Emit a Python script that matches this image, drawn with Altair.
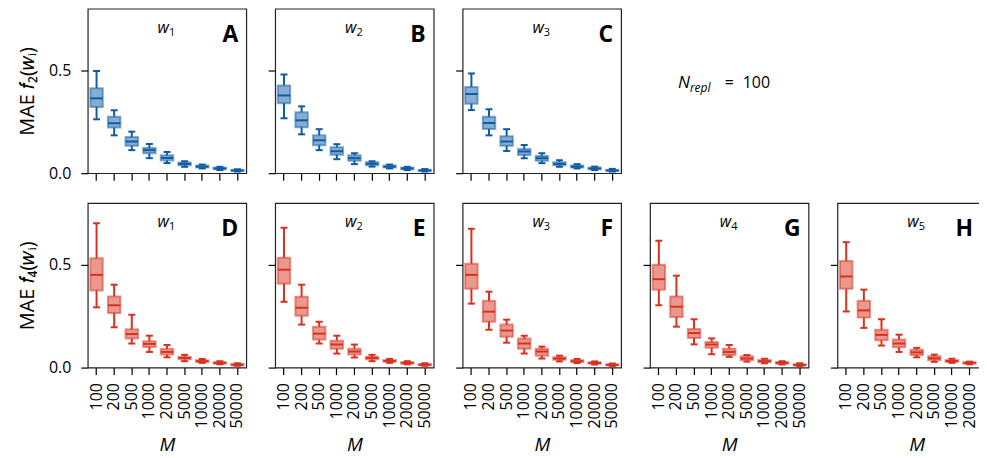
import altair as alt
import pandas as pd

cats = ["100", "200", "500", "1000", "2000", "5000", "10000", "20000", "50000"]

letters = ["A", "B", "C", "D", "E", "F", "G", "H"]
w_index = ["1", "2", "3", "1", "2", "3", "4", "5"]
y_titles = ["MAE 𝑓₂(𝑤ᵢ)", "MAE 𝑓₄(𝑤ᵢ)"]
x_title = "M"
nrepl_text = ["N", "repl", "=", "100"]

# panel A
A_hi = [0.497, 0.306, 0.202, 0.142, 0.103, 0.058, 0.042, 0.031, 0.019]
A_q3 = [0.413, 0.275, 0.176, 0.123, 0.087, 0.052, 0.037, 0.027, 0.016]
A_md = [0.364, 0.243, 0.154, 0.112, 0.074, 0.045, 0.032, 0.023, 0.013]
A_q1 = [0.322, 0.222, 0.133, 0.097, 0.062, 0.039, 0.028, 0.019, 0.011]
A_lo = [0.262, 0.184, 0.112, 0.073, 0.049, 0.031, 0.023, 0.015, 0.008]
# panel B
B_hi = [0.480, 0.325, 0.214, 0.141, 0.097, 0.058, 0.042, 0.031, 0.020]
B_q3 = [0.427, 0.296, 0.184, 0.126, 0.087, 0.053, 0.037, 0.027, 0.016]
B_md = [0.378, 0.257, 0.160, 0.107, 0.073, 0.046, 0.032, 0.023, 0.013]
B_q1 = [0.340, 0.223, 0.136, 0.090, 0.060, 0.039, 0.028, 0.019, 0.011]
B_lo = [0.267, 0.189, 0.112, 0.068, 0.044, 0.032, 0.023, 0.015, 0.008]
# panel C
C_hi = [0.485, 0.311, 0.214, 0.137, 0.097, 0.063, 0.044, 0.032, 0.021]
C_q3 = [0.419, 0.275, 0.180, 0.118, 0.084, 0.053, 0.037, 0.027, 0.016]
C_md = [0.385, 0.244, 0.154, 0.105, 0.073, 0.045, 0.032, 0.023, 0.013]
C_q1 = [0.338, 0.215, 0.133, 0.089, 0.060, 0.039, 0.028, 0.019, 0.011]
C_lo = [0.307, 0.184, 0.108, 0.073, 0.049, 0.031, 0.023, 0.015, 0.008]
# panel D
D_hi = [0.702, 0.403, 0.257, 0.155, 0.110, 0.062, 0.042, 0.031, 0.021]
D_q3 = [0.532, 0.346, 0.186, 0.128, 0.091, 0.052, 0.036, 0.026, 0.017]
D_md = [0.451, 0.303, 0.163, 0.115, 0.076, 0.047, 0.031, 0.023, 0.014]
D_q1 = [0.375, 0.265, 0.142, 0.100, 0.063, 0.040, 0.027, 0.019, 0.011]
D_lo = [0.293, 0.196, 0.117, 0.076, 0.050, 0.031, 0.023, 0.016, 0.009]
# panel E
E_hi = [0.680, 0.403, 0.223, 0.155, 0.112, 0.062, 0.042, 0.031, 0.021]
E_q3 = [0.534, 0.345, 0.199, 0.131, 0.092, 0.053, 0.037, 0.026, 0.017]
E_md = [0.476, 0.291, 0.165, 0.112, 0.078, 0.047, 0.032, 0.023, 0.014]
E_q1 = [0.408, 0.252, 0.136, 0.092, 0.063, 0.040, 0.028, 0.019, 0.011]
E_lo = [0.320, 0.209, 0.117, 0.068, 0.049, 0.031, 0.023, 0.016, 0.009]
# panel F
F_hi = [0.675, 0.369, 0.233, 0.155, 0.102, 0.058, 0.042, 0.030, 0.020]
F_q3 = [0.505, 0.325, 0.209, 0.141, 0.092, 0.050, 0.036, 0.026, 0.016]
F_md = [0.451, 0.272, 0.180, 0.117, 0.078, 0.044, 0.031, 0.022, 0.013]
F_q1 = [0.383, 0.223, 0.150, 0.092, 0.058, 0.038, 0.027, 0.019, 0.011]
F_lo = [0.311, 0.184, 0.121, 0.068, 0.044, 0.030, 0.022, 0.015, 0.008]
# panel G
G_hi = [0.617, 0.447, 0.235, 0.142, 0.110, 0.061, 0.043, 0.031, 0.021]
G_q3 = [0.500, 0.346, 0.188, 0.125, 0.092, 0.055, 0.037, 0.027, 0.016]
G_md = [0.430, 0.296, 0.168, 0.112, 0.076, 0.044, 0.031, 0.023, 0.013]
G_q1 = [0.379, 0.246, 0.144, 0.096, 0.061, 0.036, 0.026, 0.019, 0.010]
G_lo = [0.303, 0.199, 0.113, 0.065, 0.052, 0.029, 0.021, 0.015, 0.008]
# panel H
H_hi = [0.610, 0.379, 0.235, 0.160, 0.096, 0.063, 0.043, 0.029, 0.020]
H_q3 = [0.518, 0.325, 0.184, 0.136, 0.087, 0.055, 0.037, 0.026, 0.016]
H_md = [0.443, 0.278, 0.159, 0.117, 0.074, 0.045, 0.032, 0.023, 0.013]
H_q1 = [0.383, 0.243, 0.133, 0.099, 0.061, 0.036, 0.027, 0.019, 0.010]
H_lo = [0.273, 0.193, 0.107, 0.076, 0.050, 0.028, 0.023, 0.016, 0.008]

panels = [
    (A_lo, A_q1, A_md, A_q3, A_hi),
    (B_lo, B_q1, B_md, B_q3, B_hi),
    (C_lo, C_q1, C_md, C_q3, C_hi),
    (D_lo, D_q1, D_md, D_q3, D_hi),
    (E_lo, E_q1, E_md, E_q3, E_hi),
    (F_lo, F_q1, F_md, F_q3, F_hi),
    (G_lo, G_q1, G_md, G_q3, G_hi),
    (H_lo, H_q1, H_md, H_q3, H_hi),
]

BLUE = "#0f5ca6"
RED = "#d8321f"
FONT = "Open Sans"
W, H = 159, 165
BOXW = 12.5


def make_panel(i, color, first_col, bottom_row, ytitle, letter_x=W - 8):
    lo, q1, md, q3, hi = panels[i]
    df = pd.DataFrame({"M": cats, "lo": lo, "q1": q1, "md": md, "q3": q3, "hi": hi})
    xaxis = alt.Axis(
        labels=bottom_row, ticks=True, tickSize=7, labelAngle=270, grid=False,
        domain=False, labelFontSize=16, labelPadding=8, titleFontSize=19,
        titleFontStyle="italic", titleFontWeight="normal", titlePadding=7,
    )
    yaxis = alt.Axis(
        values=[0, 0.5], format=".1f", labels=first_col, tickSize=7, grid=False,
        domain=False, labelFontSize=16, labelPadding=10, titleFontSize=20,
        titleFontWeight="normal", titlePadding=11,
    )
    xs = alt.Scale(domain=cats, paddingInner=0, paddingOuter=0)
    ys = alt.Scale(domain=[0, 0.8])
    xenc = alt.X("M:N", sort=cats, scale=xs, axis=xaxis,
                 title=(x_title if bottom_row else None))
    base = alt.Chart(df).encode(x=xenc)
    lower = base.mark_rule(color=color, strokeWidth=2).encode(
        y=alt.Y("lo:Q", scale=ys, axis=yaxis, title=(ytitle if first_col else None)),
        y2="q1:Q",
    )
    upper = base.mark_rule(color=color, strokeWidth=2).encode(y="q3:Q", y2="hi:Q")
    cap_lo = base.mark_tick(color=color, size=7, thickness=2, opacity=1).encode(y="lo:Q")
    cap_hi = base.mark_tick(color=color, size=7, thickness=2, opacity=1).encode(y="hi:Q")
    box = base.mark_bar(size=BOXW, color=color, fillOpacity=0.5, stroke=color,
                        strokeOpacity=0.5, strokeWidth=2).encode(y="q1:Q", y2="q3:Q")
    med = base.mark_tick(color=color, size=BOXW, thickness=2, opacity=1).encode(y="md:Q")

    lab = pd.DataFrame({"t": [letters[i]], "w": ["w"], "s": [w_index[i]]})
    tl = alt.Chart(lab)
    letter = tl.mark_text(font=FONT, fontSize=23, fontWeight="bold", align="right",
                          baseline="alphabetic", color="black").encode(
        x=alt.value(letter_x), y=alt.value(33), text="t:N")
    wtxt = tl.mark_text(font=FONT, fontSize=16, fontStyle="italic", align="right",
                        baseline="alphabetic", color="black").encode(
        x=alt.value(W / 2 + 2), y=alt.value(24), text="w:N")
    wsub = tl.mark_text(font=FONT, fontSize=11, align="left",
                        baseline="alphabetic", color="black").encode(
        x=alt.value(W / 2 + 2), y=alt.value(27), text="s:N")
    return alt.layer(lower, upper, cap_lo, cap_hi, box, med, letter, wtxt, wsub).properties(
        width=W, height=H)


top = [make_panel(i, BLUE, i == 0, False, y_titles[0]) for i in range(3)]

ntxt = pd.DataFrame({"a": [nrepl_text[0]], "b": [nrepl_text[1]],
                     "c": [nrepl_text[2]], "d": [nrepl_text[3]]})
nc = alt.Chart(ntxt)
n1 = nc.mark_text(font=FONT, fontSize=17, fontStyle="italic", align="left",
                  baseline="alphabetic").encode(x=alt.value(36), y=alt.value(80), text="a:N")
n2 = nc.mark_text(font=FONT, fontSize=12, fontStyle="italic", align="left",
                  baseline="alphabetic").encode(x=alt.value(48), y=alt.value(84), text="b:N")
n3 = nc.mark_text(font=FONT, fontSize=16, align="left",
                  baseline="alphabetic").encode(x=alt.value(83), y=alt.value(80), text="c:N")
n4 = nc.mark_text(font=FONT, fontSize=16, align="left",
                  baseline="alphabetic").encode(x=alt.value(101), y=alt.value(80), text="d:N")
blank = alt.layer(n1, n2, n3, n4).properties(
    width=W, height=H, view=alt.ViewBackground(stroke="transparent"))

bottom = [make_panel(i, RED, i == 3, True, y_titles[1],
                     letter_x=(W - 23 if i == 7 else W - 8)) for i in range(3, 8)]

chart = alt.vconcat(
    alt.hconcat(*top, blank, spacing=19),
    alt.hconcat(*bottom, spacing=19),
    spacing=20,
).properties(
    padding={"left": 8, "top": -1, "right": -18, "bottom": 0},
    background="white",
).configure_view(
    stroke="#222222", strokeWidth=1.2,
).configure_axis(
    grid=False, domain=False, tickColor="black", tickWidth=1.2,
    labelColor="black", titleColor="black", labelFont=FONT, titleFont=FONT,
)

chart.save("out.html", embed_options={"renderer": "svg", "actions": False})
